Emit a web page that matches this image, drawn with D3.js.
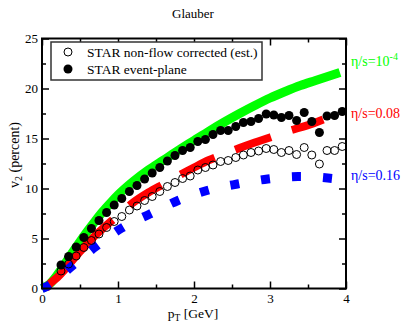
<!DOCTYPE html>
<html lang="en">
<head>
<meta charset="UTF-8">
<title>Glauber v2</title>
<script src="https://d3js.org/d3.v7.min.js"></script>
<style>
  body { margin: 0; background: #fff; }
  text { font-family: "Liberation Serif", "Times New Roman", serif; }
</style>
</head>
<body>
<div id="chart"></div>
<script>
// STAR data points (pT in GeV, v2 in percent)
const dataPt = [0.25, 0.35, 0.45, 0.55, 0.65, 0.75, 0.85, 0.95, 1.05, 1.15,
                1.25, 1.35, 1.45, 1.55, 1.65, 1.75, 1.85, 1.95, 2.05, 2.15,
                2.25, 2.35, 2.45, 2.55, 2.65, 2.75, 2.85, 2.95, 3.05, 3.15,
                3.25, 3.35, 3.45, 3.55, 3.65, 3.75, 3.85, 3.95];
const nonFlowV2 = [1.75, 2.45, 3.25, 4.1, 4.8, 5.45, 6.1, 6.7, 7.2, 7.85,
                   8.25, 8.8, 9.2, 9.7, 10.2, 10.6, 11.0, 11.25, 11.85, 12.1,
                   12.35, 12.7, 12.8, 13.1, 13.35, 13.6, 13.75, 14.0, 13.9, 13.6,
                   13.8, 13.4, 14.1, 13.35, 12.45, 13.8, 13.8, 14.2];
const eventPlaneV2 = [2.35, 3.2, 4.15, 5.1, 6.0, 6.8, 7.6, 8.35, 9.0, 9.7,
                      10.3, 10.95, 11.55, 12.1, 12.75, 13.3, 13.8, 14.1, 14.7, 14.9,
                      15.4, 15.8, 15.8, 16.2, 16.6, 16.7, 17.0, 17.45, 17.35, 17.1,
                      17.3, 16.8, 17.6, 16.7, 15.6, 17.25, 17.3, 17.7];

// hydro curves
const greenPt = [0, 0.1, 0.2, 0.3, 0.4, 0.5, 0.6, 0.7, 0.8, 0.9, 1.0, 1.2, 1.4, 1.6,
                 1.8, 2.0, 2.2, 2.4, 2.6, 2.8, 3.0, 3.2, 3.4, 3.6, 3.8, 3.92];
const greenV2 = [0, 0.45, 1.35, 2.45, 3.6, 4.7, 5.75, 6.75, 7.7, 8.55, 9.35, 10.7, 11.85, 12.85,
                 13.85, 14.8, 15.75, 16.65, 17.5, 18.3, 19.05, 19.7, 20.3, 20.8, 21.3, 21.6];

const redPt = [0.05, 0.1, 0.2, 0.3, 0.4, 0.5, 0.6, 0.7, 0.8, 1.0, 1.2, 1.4, 1.6,
               1.8, 2.0, 2.2, 2.4, 2.6, 2.8, 3.0, 3.2, 3.4, 3.6, 3.7];
const redV2 = [0, 0.45, 1.1, 1.9, 2.8, 3.7, 4.5, 5.3, 6.0, 7.3, 8.6, 9.6, 10.45,
               11.3, 12.1, 12.85, 13.45, 14.05, 14.6, 15.1, 15.65, 16.1, 16.6, 16.9];

const bluePt = [0, 0.065, 0.38, 0.7, 1.05, 1.42, 1.79, 2.17, 2.57, 2.97, 3.37, 3.76, 3.82];
const blueV2 = [0, 0.2, 2.15, 4.15, 6.05, 7.45, 8.8, 9.8, 10.45, 10.95, 11.2, 11.05, 11.0];

const xTicks = [0, 1, 2, 3, 4];
const xMinor = [0.5, 1.5, 2.5, 3.5];
const yTicks = [0, 5, 10, 15, 20, 25];
const yMinor = [2.5, 7.5, 12.5, 17.5, 22.5];

const W = 402, H = 322;
const margin = {top: 38.5, right: 56, bottom: 33.5, left: 42};
const width = W - margin.left - margin.right;
const height = H - margin.top - margin.bottom;

const svg = d3.select("#chart").append("svg")
  .attr("width", W).attr("height", H);
const g = svg.append("g")
  .attr("transform", `translate(${margin.left},${margin.top})`);

const x = d3.scaleLinear().domain([0, 4]).range([0, width]);
const y = d3.scaleLinear().domain([0, 25]).range([height, 0]);

// title and axis labels
svg.append("text").attr("x", 193).attr("y", 18)
  .attr("text-anchor", "middle").attr("font-size", 13).text("Glauber");

const xl = svg.append("text").attr("x", 193).attr("y", 318)
  .attr("text-anchor", "middle").attr("font-size", 13.5);
xl.append("tspan").text("p");
xl.append("tspan").attr("font-size", 9.5).attr("dy", 3).text("T");
xl.append("tspan").attr("dy", -3).text(" [GeV]");

const yl = svg.append("text")
  .attr("transform", "translate(19,155) rotate(-90)")
  .attr("text-anchor", "middle").attr("font-size", 14);
yl.append("tspan").text("v");
yl.append("tspan").attr("font-size", 10).attr("dy", 3).text("2");
yl.append("tspan").attr("dy", -3).text(" (percent)");

// axes with inward ticks
function styleAxis(sel) {
  sel.select(".domain").remove();
  sel.selectAll("line").attr("stroke", "#000").attr("stroke-width", 1.5);
  sel.selectAll("text").attr("font-size", 13)
    .attr("font-family", "Liberation Serif, serif").attr("fill", "#000");
}
g.append("g").attr("transform", `translate(0,${height})`)
  .call(d3.axisBottom(x).tickValues(xTicks).tickSize(-7).tickPadding(5).tickFormat(d3.format("d")))
  .call(styleAxis);
g.append("g").attr("transform", `translate(0,${height})`)
  .call(d3.axisBottom(x).tickValues(xMinor).tickSize(-4).tickFormat(""))
  .call(styleAxis);
g.append("g")
  .call(d3.axisTop(x).tickValues(xTicks).tickSize(-7).tickFormat(""))
  .call(styleAxis);
g.append("g")
  .call(d3.axisTop(x).tickValues(xMinor).tickSize(-4).tickFormat(""))
  .call(styleAxis);
g.append("g")
  .call(d3.axisLeft(y).tickValues(yTicks).tickSize(-7).tickPadding(4).tickFormat(d3.format("d")))
  .call(styleAxis);
g.append("g")
  .call(d3.axisLeft(y).tickValues(yMinor).tickSize(-4).tickFormat(""))
  .call(styleAxis);
g.append("g").attr("transform", `translate(${width},0)`)
  .call(d3.axisRight(y).tickValues(yTicks).tickSize(-7).tickFormat(""))
  .call(styleAxis);
g.append("g").attr("transform", `translate(${width},0)`)
  .call(d3.axisRight(y).tickValues(yMinor).tickSize(-4).tickFormat(""))
  .call(styleAxis);

// curves
const line = d3.line().x(d => x(d[0])).y(d => y(d[1])).curve(d3.curveMonotoneX);

g.append("path").datum(d3.zip(greenPt, greenV2))
  .attr("d", line).attr("fill", "none")
  .attr("stroke", "#00ff00").attr("stroke-width", 9);

g.append("path").datum(d3.zip(redPt, redV2))
  .attr("d", line).attr("fill", "none")
  .attr("stroke", "#ff0000").attr("stroke-width", 8)
  .attr("stroke-dasharray", "96,22,38,22,38,22,38,22,38,22,38,22");

g.append("path").datum(d3.zip(bluePt, blueV2))
  .attr("d", line).attr("fill", "none")
  .attr("stroke", "#0000ff").attr("stroke-width", 9)
  .attr("stroke-dasharray", "9,22.1");

// data markers
g.selectAll(".open").data(d3.zip(dataPt, nonFlowV2)).enter()
  .append("circle").attr("class", "open")
  .attr("cx", d => x(d[0])).attr("cy", d => y(d[1])).attr("r", 4)
  .attr("fill", "none").attr("stroke", "#000").attr("stroke-width", 1);

g.selectAll(".filled").data(d3.zip(dataPt, eventPlaneV2)).enter()
  .append("circle").attr("class", "filled")
  .attr("cx", d => x(d[0])).attr("cy", d => y(d[1])).attr("r", 4.5)
  .attr("fill", "#000");

// frame
g.append("rect").attr("width", width).attr("height", height)
  .attr("fill", "none").attr("stroke", "#000").attr("stroke-width", 2);

// legend
const lg = svg.append("g");
lg.append("rect").attr("x", 51).attr("y", 42).attr("width", 211).attr("height", 38)
  .attr("fill", "#fff").attr("stroke", "#333").attr("stroke-width", 1.5);
lg.append("circle").attr("cx", 68).attr("cy", 52).attr("r", 4)
  .attr("fill", "none").attr("stroke", "#000");
lg.append("circle").attr("cx", 68).attr("cy", 69).attr("r", 4.5).attr("fill", "#000");
lg.append("text").attr("x", 87).attr("y", 57).attr("font-size", 13.5)
  .text("STAR non-flow corrected (est.)");
lg.append("text").attr("x", 87).attr("y", 74).attr("font-size", 13.5)
  .text("STAR event-plane");

// curve labels
const t1 = svg.append("text").attr("x", 351).attr("y", 66).attr("font-size", 14)
  .attr("fill", "#00ff00");
t1.append("tspan").text("η/s=10");
t1.append("tspan").attr("font-size", 10).attr("dy", -6).text("-4");
svg.append("text").attr("x", 351).attr("y", 118).attr("font-size", 14)
  .attr("fill", "#ff0000").text("η/s=0.08");
svg.append("text").attr("x", 351).attr("y", 180).attr("font-size", 14)
  .attr("fill", "#0000ff").text("η/s=0.16");
</script>
</body>
</html>
